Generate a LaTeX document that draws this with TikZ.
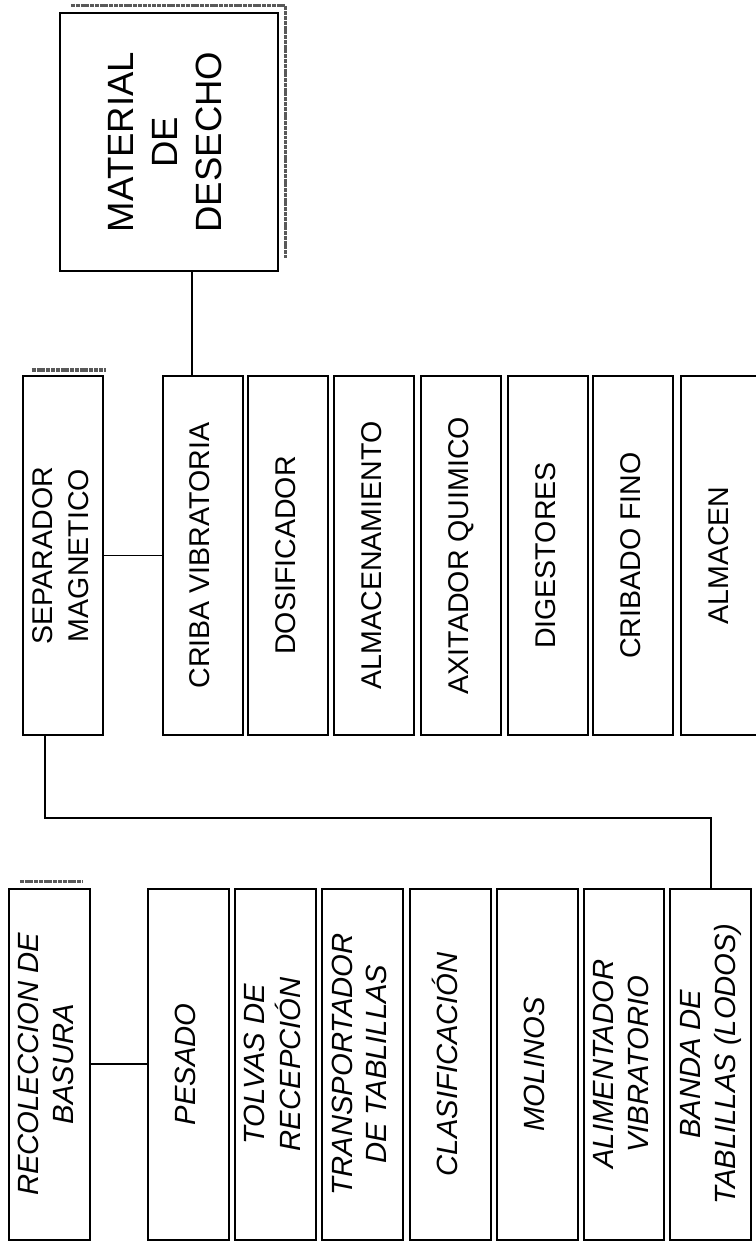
\documentclass[tikz,border=0pt]{standalone}
\usepackage{fontspec}
\setsansfont{Liberation Sans}
\usepackage{graphicx}
\usetikzlibrary{positioning}

\newcommand{\vlabel}[1]{\rotatebox{90}{\begin{tabular}{@{}c@{}}#1\end{tabular}}}

\begin{document}
\begin{tikzpicture}[
    topbox/.style={rectangle, draw, line width=1.5pt, inner sep=0pt, minimum width=5.77cm, minimum height=6.83cm, font=\fontsize{27.5}{33}\sffamily\selectfont},
    plantbox/.style={rectangle, draw, line width=1.5pt, inner sep=0pt, minimum width=2.12cm, minimum height=9.50cm, font=\fontsize{21.5}{27.75}\sffamily\selectfont},
    feedbox/.style={rectangle, draw, line width=1.5pt, inner sep=0pt, minimum width=2.14cm, minimum height=9.29cm, font=\fontsize{22}{26}\sffamily\itshape\selectfont},
    link/.style={line width=1.2pt},
    smudge/.style={line width=2.6pt, black!65, dash pattern=on 3pt off 0.6pt}
]
\fill[white] (0,0) rectangle (20.00,-32.97);
\useasboundingbox (0,0) rectangle (20.00,-32.97);

% Waste
\node[topbox] (desecho) at (4.47,-3.76) {\vlabel{MATERIAL\\DE\\DESECHO}};

% Processing line
\node[plantbox] (separador) at (1.67,-14.70)  {\vlabel{SEPARADOR\\MAGNETICO}};
\node[plantbox] (criba)     at (5.36,-14.70)  {\vlabel{CRIBA VIBRATORIA}};
\node[plantbox] (dosif)     at (7.62,-14.70)  {\vlabel{DOSIFICADOR}};
\node[plantbox] (almac)     at (9.90,-14.70)  {\vlabel{ALMACENAMIENTO}};
\node[plantbox] (axitador)  at (12.20,-14.70) {\vlabel{AXITADOR QUIMICO}};
\node[plantbox] (digest)    at (14.50,-14.70) {\vlabel{DIGESTORES}};
\node[plantbox] (cribfino)  at (16.76,-14.70) {\vlabel{CRIBADO FINO}};
\node[plantbox] (almacen)   at (19.08,-14.70) {\vlabel{ALMACEN}};

% Reception line
\node[feedbox] (recoleccion)   at (1.30,-28.16)  {\vlabel{RECOLECCION DE\\BASURA}};
\node[feedbox] (pesado)        at (4.99,-28.16)  {\vlabel{PESADO}};
\node[feedbox] (tolvas)        at (7.30,-28.16)  {\vlabel{TOLVAS DE\\RECEPCIÓN}};
\node[feedbox] (transportador) at (9.60,-28.16)  {\vlabel{TRANSPORTADOR\\DE TABLILLAS}};
\node[feedbox] (clasif)        at (11.91,-28.16) {\vlabel{CLASIFICACIÓN}};
\node[feedbox] (molinos)       at (14.22,-28.16) {\vlabel{MOLINOS}};
\node[feedbox] (alimentador)   at (16.51,-28.16) {\vlabel{ALIMENTADOR\\VIBRATORIO}};
\node[feedbox] (banda)         at (18.81,-28.16) {\vlabel{BANDA DE\\TABLILLAS (LODOS)}};

% Scan marks
\draw[smudge] ([xshift=0.32cm,yshift=0.17cm]desecho.north west) -- ([xshift=0.17cm,yshift=0.17cm]desecho.north east) -- ([xshift=0.17cm,yshift=0.37cm]desecho.south east);
\draw[smudge] ([xshift=0.26cm,yshift=0.13cm]separador.north west) -- ([xshift=0.05cm,yshift=0.13cm]separador.north east);
\draw[smudge] ([xshift=0.32cm,yshift=0.16cm]recoleccion.north west) -- ([xshift=-0.2cm,yshift=0.16cm]recoleccion.north east);

% Links
\draw[link] (recoleccion) -- (pesado);
\draw[link] (separador) -- (criba);
\path ([xshift=-0.28cm]criba.north) coordinate (drop);
\draw[link] (drop) -- (drop |- desecho.south);
\path ([xshift=-0.48cm]separador.south) coordinate (tap);
\coordinate (bus) at (0,-21.64);
\draw[link] (tap) |- (bus -| banda.north) -- (banda.north);
\end{tikzpicture}
\end{document}
